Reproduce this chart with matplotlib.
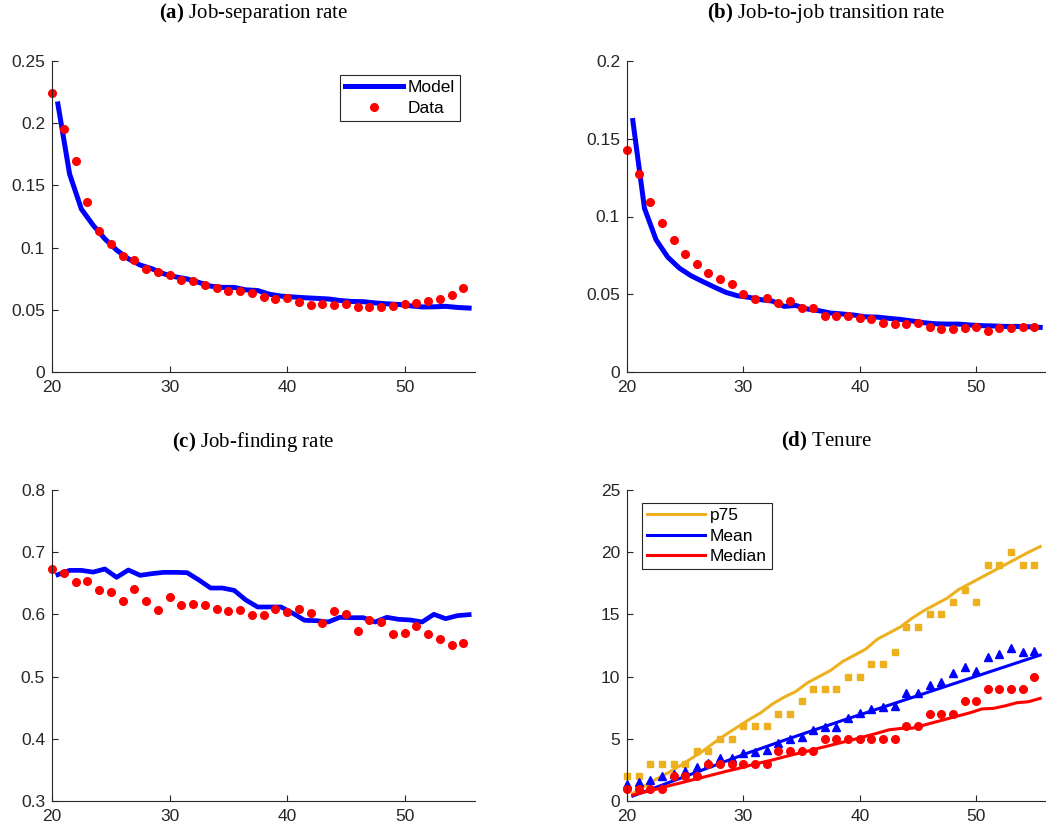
import matplotlib
matplotlib.use("Agg")
import matplotlib.pyplot as plt
from matplotlib.ticker import FuncFormatter

plt.rcParams['font.family'] = ['Liberation Sans', 'DejaVu Sans']
plt.rcParams['mathtext.fontset'] = 'custom'
plt.rcParams['mathtext.rm'] = 'Liberation Serif'
plt.rcParams['mathtext.bf'] = 'Liberation Serif:bold'

# ages (data observed at integer ages, model at mid-year)
ages = list(range(20, 56))
model_ages = [a + 0.5 for a in ages]

# (a) job-separation rate
sep_data = [0.224, 0.195, 0.170, 0.1365, 0.113, 0.1025, 0.0934, 0.0897, 0.083, 0.080,
            0.0776, 0.0736, 0.073, 0.0699, 0.0672, 0.065, 0.0648, 0.0632, 0.0605, 0.0589,
            0.0592, 0.056, 0.0538, 0.0546, 0.0538, 0.0549, 0.0522, 0.0519, 0.0525, 0.053,
            0.0546, 0.0551, 0.0567, 0.0586, 0.0618, 0.0672]
sep_model = [0.2155, 0.159, 0.131, 0.118, 0.107, 0.098, 0.091, 0.086, 0.083, 0.079,
             0.0765, 0.0748, 0.072, 0.069, 0.068, 0.068, 0.066, 0.0655, 0.0625, 0.061,
             0.0603, 0.0597, 0.0592, 0.0587, 0.0575, 0.0567, 0.0565, 0.0555, 0.0548, 0.0543,
             0.0532, 0.0523, 0.0524, 0.0528, 0.0519, 0.0514]

# (b) job-to-job transition rate
j2j_data = [0.1426, 0.1272, 0.1092, 0.0955, 0.085, 0.0758, 0.0696, 0.0636, 0.060, 0.0563,
            0.0503, 0.0467, 0.0473, 0.0445, 0.0454, 0.0411, 0.0413, 0.0362, 0.0362, 0.0362,
            0.0345, 0.0338, 0.0317, 0.0308, 0.031, 0.0317, 0.0291, 0.0276, 0.0276, 0.0285,
            0.0287, 0.0266, 0.028, 0.028, 0.0289, 0.0289]
j2j_model = [0.1617, 0.1053, 0.085, 0.0739, 0.0668, 0.0619, 0.0582, 0.0546, 0.0512, 0.049,
             0.048, 0.0465, 0.0456, 0.0422, 0.0428, 0.0405, 0.0394, 0.0379, 0.0373, 0.0366,
             0.0355, 0.0353, 0.0345, 0.0338, 0.0328, 0.0317, 0.031, 0.0308, 0.0308, 0.0302,
             0.0298, 0.0296, 0.0293, 0.0293, 0.0291, 0.0287]

# (c) job-finding rate
find_data = [0.6725, 0.666, 0.652, 0.6537, 0.640, 0.6355, 0.622, 0.6414, 0.6215, 0.6065,
             0.6274, 0.6146, 0.6162, 0.6146, 0.6081, 0.6049, 0.6065, 0.599, 0.5996, 0.6092,
             0.6033, 0.6092, 0.6028, 0.5862, 0.6049, 0.6001, 0.5738, 0.5915, 0.5872, 0.568,
             0.5696, 0.5814, 0.569, 0.5599, 0.5513, 0.554]
find_model = [0.6639, 0.6708, 0.6708, 0.668, 0.673, 0.6596, 0.6714, 0.6628, 0.6655, 0.6676,
              0.6676, 0.6671, 0.6553, 0.6424, 0.6424, 0.6387, 0.6231, 0.6119, 0.6119, 0.6119,
              0.6017, 0.5905, 0.5899, 0.5878, 0.5953, 0.5947, 0.5947, 0.5878, 0.5953, 0.5921,
              0.591, 0.5878, 0.6001, 0.5931, 0.598, 0.5996]

# (d) tenure
p75_data = [2, 2, 3, 3, 3, 3, 4, 4, 5, 5, 6, 6, 6, 7, 7, 8, 9, 9, 9, 10,
            10, 11, 11, 12, 14, 14, 15, 15, 16, 17, 16, 19, 19, 20, 19, 19]
mean_data = [1.37, 1.55, 1.72, 2.0, 2.2, 2.42, 2.76, 3.06, 3.42, 3.42, 3.82, 3.92, 4.12, 4.64,
             4.98, 5.12, 5.67, 5.98, 5.98, 6.68, 7.08, 7.4, 7.58, 7.66, 8.7, 8.7, 9.3, 9.55,
             10.26, 10.8, 10.42, 11.6, 11.82, 12.26, 12.0, 12.02]
median_data = [1, 1, 1, 1, 2, 2, 2, 3, 3, 3, 3, 3, 3, 4, 4, 4, 4, 5, 5, 5,
               5, 5, 5, 5, 6, 6, 7, 7, 7, 8, 8, 9, 9, 9, 9, 10]
p75_model = [0.6, 1.2, 1.75, 2.25, 2.8, 3.4, 4.0, 4.7, 5.35, 5.95, 6.55, 7.1, 7.8, 8.35,
             8.8, 9.5, 10.0, 10.5, 11.2, 11.7, 12.2, 13.0, 13.5, 14.0, 14.7, 15.3, 15.8,
             16.3, 17.0, 17.5, 18.0, 18.5, 19.0, 19.5, 20.0, 20.45]
mean_model = [0.4, 0.75, 1.1, 1.45, 1.8, 2.15, 2.5, 2.85, 3.2, 3.55, 3.9, 4.22, 4.55, 4.88,
              5.2, 5.52, 5.84, 6.15, 6.47, 6.78, 7.08, 7.39, 7.7, 8.01, 8.32, 8.63, 8.94,
              9.25, 9.56, 9.87, 10.18, 10.49, 10.8, 11.11, 11.42, 11.73]
median_model = [0.48, 0.72, 0.95, 1.2, 1.43, 1.67, 1.9, 2.14, 2.38, 2.6, 2.85, 3.08, 3.3,
                3.55, 3.78, 4.0, 4.25, 4.48, 4.72, 4.95, 5.2, 5.45, 5.72, 5.83, 5.85, 6.1,
                6.35, 6.6, 6.85, 7.1, 7.4, 7.45, 7.65, 7.9, 7.98, 8.25]

titles = [r'$\mathbf{(a)}$ Job-separation rate', r'$\mathbf{(b)}$ Job-to-job transition rate',
          r'$\mathbf{(c)}$ Job-finding rate', r'$\mathbf{(d)}$ Tenure']

BLUE = '#0000FF'
RED = '#FF0000'
GOLD = '#EDB120'
DARK = '#262626'

W, H = 1046, 832
fig = plt.figure(figsize=(W / 100, H / 100), dpi=100)


def px_axes(x0, y0, x1, y1):
    return fig.add_axes([x0 / W, 1 - y1 / H, (x1 - x0) / W, (y1 - y0) / H])


ax_a = px_axes(52, 61, 475, 372)
ax_b = px_axes(627, 61, 1046, 372)
ax_c = px_axes(52, 490, 475, 801)
ax_d = px_axes(627, 490, 1046, 801)

fmt = FuncFormatter(lambda v, p: '%g' % round(v, 4))


def style(ax, title, ylim, step):
    for s in ['top', 'right']:
        ax.spines[s].set_visible(False)
    for s in ['left', 'bottom']:
        ax.spines[s].set_color(DARK)
        ax.spines[s].set_linewidth(0.8)
    ax.set_xlim(20, 56)
    ax.set_xticks([20, 30, 40, 50])
    ax.set_ylim(*ylim)
    n = int(round((ylim[1] - ylim[0]) / step))
    ax.set_yticks([ylim[0] + i * step for i in range(n + 1)])
    ax.yaxis.set_major_formatter(fmt)
    ax.tick_params(direction='in', length=4, width=0.8, color=DARK, labelcolor=DARK,
                   labelsize=12.5)
    ax.tick_params(axis='x', pad=6)
    ax.tick_params(axis='y', pad=5)
    ax.set_title(title, family='Liberation Serif', fontsize=15, pad=31, x=0.476)


def legend(ax, **kw):
    lg = ax.legend(fontsize=12.5, fancybox=False, framealpha=1, edgecolor=DARK,
                   handlelength=3.3, handletextpad=0.3, borderpad=0.3, labelspacing=0.3,
                   borderaxespad=0, **kw)
    lg.get_frame().set_linewidth(0.8)


# (a)
ax_a.plot(model_ages, sep_model, color=BLUE, lw=3.6, label='Model')
ax_a.plot(ages, sep_data, 'o', color=RED, ms=5.5, label='Data', clip_on=False)
style(ax_a, titles[0], (0, 0.25), 0.05)
legend(ax_a, loc='upper right', bbox_to_anchor=(0.965, 0.955))

# (b)
ax_b.plot(model_ages, j2j_model, color=BLUE, lw=3.6)
ax_b.plot(ages, j2j_data, 'o', color=RED, ms=5.5, clip_on=False)
style(ax_b, titles[1], (0, 0.2), 0.05)

# (c)
ax_c.plot(model_ages, find_model, color=BLUE, lw=3.4)
ax_c.plot(ages, find_data, 'o', color=RED, ms=5.5, clip_on=False)
style(ax_c, titles[2], (0.3, 0.8), 0.1)

# (d)
ax_d.plot(model_ages, p75_model, color=GOLD, lw=2.2, label='p75')
ax_d.plot(model_ages, mean_model, color=BLUE, lw=2.2, label='Mean')
ax_d.plot(model_ages, median_model, color=RED, lw=2.2, label='Median')
ax_d.plot(ages, p75_data, 's', color=GOLD, ms=5, clip_on=False)
ax_d.plot(ages, mean_data, '^', color=BLUE, ms=5.5, clip_on=False)
ax_d.plot(ages, median_data, 'o', color=RED, ms=5.5, clip_on=False)
style(ax_d, titles[3], (0, 25), 5)
legend(ax_d, loc='upper left', bbox_to_anchor=(0.036, 0.958))

fig.savefig('out.png', dpi=100)
